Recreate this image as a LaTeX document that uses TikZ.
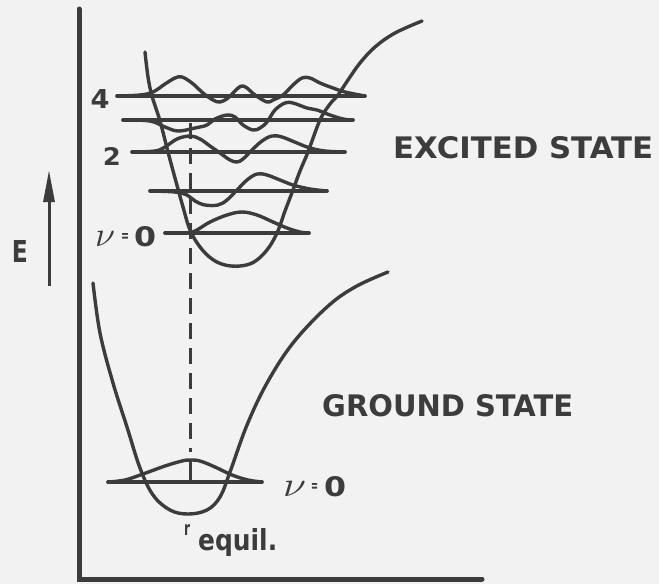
\documentclass[tikz,border=0pt]{standalone}
\usepackage{fontspec}
\setsansfont{DejaVu Sans}
\usetikzlibrary{arrows.meta}
\definecolor{ink}{HTML}{3C3C3C}
\definecolor{paper}{HTML}{F2F2F2}
\tikzset{
  curve/.style={ink, line width=3.4pt, line cap=round, line join=round},
  level/.style={ink, line width=3.6pt, line cap=round},
  axis/.style={ink, line width=5pt},
  lbl/.style={ink, inner sep=0pt, font=\sffamily\bfseries},
}
\newcommand{\fitbox}[3]{\resizebox{#1pt}{#2pt}{#3}}
\begin{document}
\begin{tikzpicture}[x=1pt,y=-1pt]
\useasboundingbox (0,0) rectangle (659,584);
\fill[paper] (0,0) rectangle (659,584);
% axes
\coordinate (ytop) at (79,9);
\coordinate (origin) at (79,579);
\coordinate (xend) at (482,579);
\draw[axis, line cap=round] (ytop) -- (origin) -- (xend);
% energy arrow
\coordinate (ea) at (49,286);
\coordinate (eb) at (49,170);
\draw[ink, line width=3pt, -{Triangle[length=32pt,width=11pt]}] (ea) -- (eb);
\node[lbl] (E) at (20,251) {\fitbox{16}{22}{E}};
% excited potential
\draw[curve] plot[smooth, tension=0.6] coordinates {(145,52) (148,77) (152,96) (160,121) (168,152) (175,178) (183,207) (190,230) (200,247) (212,259) (225,265) (240,266) (254,262) (267,250) (277,233) (285,211) (293,190) (300,171) (308,152) (320,120) (330,104) (338,95) (348,80) (360,63) (375,47) (395,33) (422,21)};
% ground potential
\draw[curve] plot[smooth, tension=0.6] coordinates {(93,283) (100,333) (113,383) (127,427) (140,468) (153,495) (170,510) (188,514) (207,510) (220,497) (230,472) (247,425) (267,383) (293,343) (327,307) (355,287) (388,272)};
% excited levels
\draw[level] (117,96) -- (365,96);
\draw[level] (123,120) -- (353,120);
\draw[level] (132,152) -- (345,152);
\draw[level] (150,191) -- (327,191);
\draw[level] (165,233) -- (309,233);
% ground level
\draw[level] (108,482) -- (262,482);
% excited wavefunctions
\draw[curve] plot[smooth, tension=0.6] coordinates {(117,96) (140,95) (153,92) (165,84) (175,78) (182,77) (192,83) (203,93) (213,100) (220,102) (228,98) (237,89) (242,86) (247,88) (255,95) (267,102) (273,100) (283,95) (293,85) (302,78) (310,78) (320,83) (333,88) (345,92) (365,96)};
\draw[curve] plot[smooth, tension=0.6] coordinates {(123,120) (150,121) (165,127) (178,131) (195,128) (207,125) (215,119) (227,115) (235,117) (243,125) (253,130) (260,128) (267,122) (275,110) (285,103) (293,103) (307,108) (317,110) (330,115) (343,119) (353,120)};
\draw[curve] plot[smooth, tension=0.6] coordinates {(132,152) (155,151) (165,147) (177,139) (190,136) (200,139) (210,146) (220,153) (230,160) (237,162) (243,159) (252,150) (262,141) (272,136) (282,137) (297,143) (310,148) (325,151) (345,152)};
\draw[curve] plot[smooth, tension=0.6] coordinates {(150,191) (175,192) (187,195) (195,201) (205,205) (218,205) (227,200) (237,190) (247,180) (257,174) (267,175) (280,180) (293,185) (310,189) (327,191)};
\draw[curve] plot[smooth, tension=0.6] coordinates {(165,233) (185,233) (195,231) (210,222) (227,215) (242,212) (257,215) (273,222) (287,228) (300,232) (309,233)};
% ground wavefunction
\draw[curve] plot[smooth, tension=0.6] coordinates {(108,482) (125,480) (143,474) (165,466) (182,461) (190,460) (200,461) (215,467) (232,475) (248,480) (262,482)};
% equilibrium line
\coordinate (dtop) at (190,123);
\coordinate (dbot) at (190,452);
\coordinate (gpk) at (190,460);
\coordinate (gln) at (190,482);
\draw[ink, line width=3pt, dash pattern=on 16pt off 9pt] (dtop) -- (dbot);
\draw[ink, line width=3pt] (gpk) -- (gln);
% labels
\node[lbl] (l4) at (100,99) {\fitbox{19}{19}{4}};
\node[lbl] (l2) at (112,156) {\fitbox{18}{18}{2}};
\node[lbl, anchor=base west] (l0) at (95,246) {\fitbox{20}{15}{$\nu$}\hspace{6pt}\raisebox{5pt}{\fitbox{8}{8}{=}}\hspace{5pt}\fitbox{22}{20}{0}};
\node[lbl, anchor=base west] (g0) at (283,496) {\fitbox{23}{15}{$\nu$}\hspace{5pt}\raisebox{5pt}{\fitbox{7}{8}{=}}\hspace{6pt}\fitbox{22}{20}{0}};
\node[lbl, anchor=west] (exc) at (393,148) {\fitbox{260}{22}{EXCITED STATE}};
\node[lbl, anchor=west] (gnd) at (322,406) {\fitbox{251}{22}{GROUND STATE}};
\node[lbl, anchor=base west] (rr) at (184,535) {\fitbox{6}{11}{r}};
\node[lbl, anchor=base west] (eq) at (198,550) {\fitbox{79}{22}{equil.}};
\end{tikzpicture}
\end{document}
